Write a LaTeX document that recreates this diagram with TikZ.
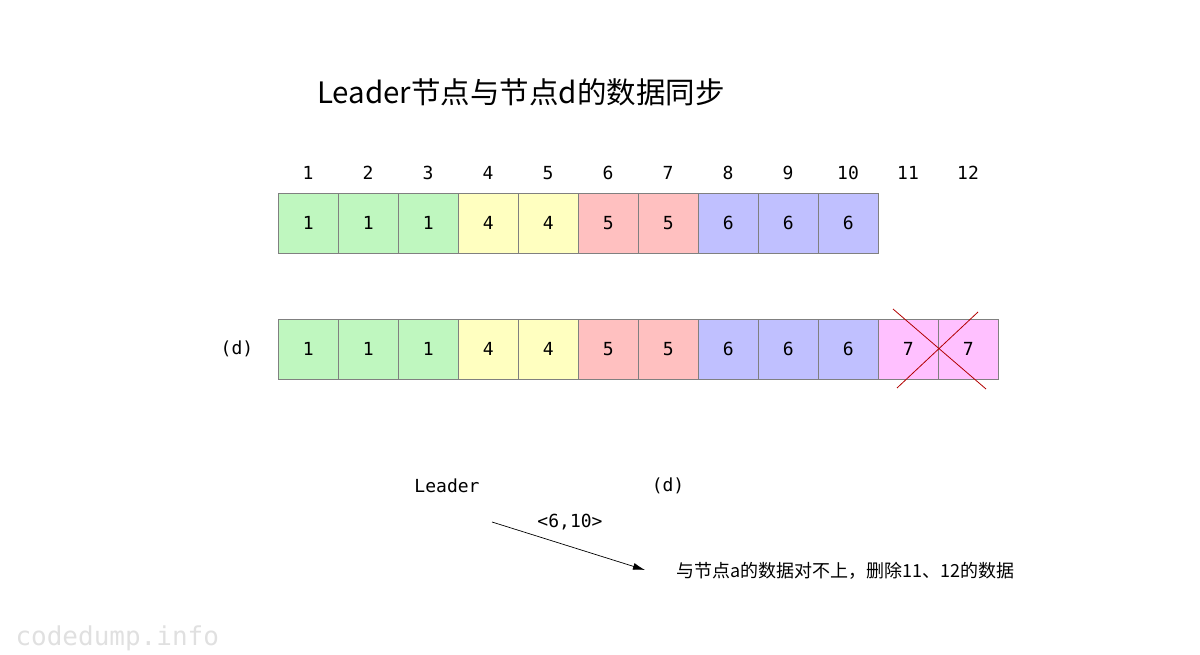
\documentclass[tikz,border=0pt]{standalone}
\usepackage{fontspec}
\setmainfont{DejaVu Sans}
\setmonofont{DejaVu Sans Mono}
\newfontfamily\cjk{Noto Sans CJK SC}
\usetikzlibrary{arrows.meta}
\begin{document}
\begin{tikzpicture}[x=1pt,y=-1pt,
  cell/.style={draw=black!50,line width=0.8pt,minimum width=60pt,minimum height=60pt,inner sep=0pt,font=\fontsize{18}{18}\ttfamily,anchor=north west},
  lbl/.style={font=\fontsize{18}{18}\ttfamily}]
\useasboundingbox (0,0) rectangle (1200,655);
\definecolor{cg}{HTML}{BFF7BF}\definecolor{cy}{HTML}{FFFFC0}
\definecolor{cr}{HTML}{FFC0C0}\definecolor{cb}{HTML}{C0C0FF}\definecolor{cp}{HTML}{FFC0FF}
\node[font=\fontsize{29.5}{30}\cjk,anchor=west,inner sep=0pt] (title) at (317,92) {Leader节点与节点d的数据同步};
\foreach \i in {1,...,12}{ \node[lbl] (h\i) at (248+60*\i,173) {\i}; }
\foreach \i/\v/\c in {1/1/cg,2/1/cg,3/1/cg,4/4/cy,5/4/cy,6/5/cr,7/5/cr,8/6/cb,9/6/cb,10/6/cb}{
  \node[cell,fill=\c] (a\i) at (218+60*\i,193) {\v};
  \node[cell,fill=\c] (b\i) at (218+60*\i,319) {\v};
}
\node[cell,fill=cp] (b11) at (878,319) {7};
\node[cell,fill=cp] (b12) at (938,319) {7};
\node[lbl] (dl) at (237,349) {(d)};
\coordinate (x1) at (893,309); \coordinate (x2) at (986,389);
\coordinate (x3) at (978,312); \coordinate (x4) at (897,388);
\draw[color=red!70!black,line width=0.8pt] (x1) -- (x2) (x3) -- (x4);
\node[lbl] (leader) at (447,486) {Leader};
\node[lbl] (dd) at (668,486) {(d)};
\node[lbl] (rng) at (570,522) {<6,10>};
\coordinate (s) at (492,522);
\node[anchor=west,inner sep=0pt,font=\fontsize{18}{18}\cjk] (msg) at (676,571) {与节点a的数据对不上，删除11、12的数据};
\draw[-{Latex[length=12pt,width=7pt]},line width=0.7pt] (s) -- (645,570);
\node[anchor=west,font=\fontsize{26}{26}\ttfamily,text=black!12] (wm) at (12,638) {codedump.info};
\end{tikzpicture}
\end{document}
